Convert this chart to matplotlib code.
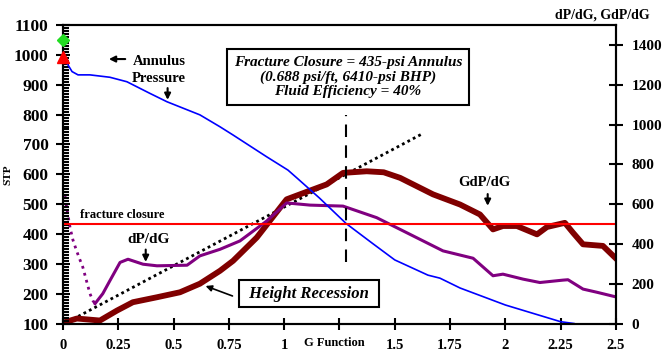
import numpy as np
import matplotlib
matplotlib.use("Agg")
import matplotlib.pyplot as plt
from matplotlib.ticker import MultipleLocator, FixedLocator

plt.rcParams['font.family'] = ['Liberation Serif', 'DejaVu Serif']
plt.rcParams['font.weight'] = 'bold'

# ── data ──
# annulus pressure (STP, left axis)
g_stp = [0.0, 0.009, 0.023, 0.041, 0.068, 0.122, 0.212, 0.289, 0.393, 0.470, 0.619,
         0.710, 0.77, 0.92, 1.017, 1.06, 1.16, 1.28, 1.40, 1.50, 1.65, 1.704, 1.795,
         2.0, 2.25, 2.31]
stp = [1000, 983, 966, 944, 933, 933, 925, 910, 871, 843, 799,
       759, 731, 659, 614, 586, 520, 435, 368, 313, 262, 252, 219,
       162, 106, 100]

# dP/dG (right axis)
g_dp_early = [0.009, 0.020, 0.032, 0.045, 0.060, 0.075, 0.090, 0.105, 0.122, 0.135, 0.145]
dp_early = [640, 560, 482, 420, 370, 325, 282, 220, 150, 115, 100]
g_dp = [0.145, 0.18, 0.212, 0.258, 0.294, 0.362, 0.425, 0.561, 0.619, 0.710, 0.800,
        0.921, 1.011, 1.117, 1.266, 1.418, 1.569, 1.718, 1.854, 1.944, 1.989, 2.080,
        2.156, 2.260, 2.283, 2.351, 2.414, 2.495]
dp = [100, 150, 215, 307, 323, 298, 290, 293, 340, 373, 415,
      515, 606, 595, 590, 532, 448, 365, 328, 240, 248, 223,
      206, 218, 220, 173, 157, 135]

# G*dP/dG (right axis)
g_gdp = [0.009, 0.063, 0.167, 0.244, 0.316, 0.425, 0.529, 0.619, 0.710, 0.769, 0.876,
         1.011, 1.071, 1.192, 1.266, 1.373, 1.45, 1.524, 1.673, 1.795, 1.885, 1.944,
         1.989, 2.052, 2.143, 2.188, 2.269, 2.306, 2.351, 2.441, 2.495]
gdp = [7, 25, 15, 65, 107, 132, 157, 200, 265, 315, 432,
       624, 649, 699, 757, 765, 760, 732, 649, 598, 548, 473,
       490, 490, 448, 485, 506, 456, 398, 390, 332]

# tangent line through the origin
g_tan = [0.02, 1.627]
tan = [7, 955]

closure_stp = 435
closure_g = 1.28
x_ticks = [0, 0.25, 0.5, 0.75, 1, 1.25, 1.5, 1.75, 2, 2.25, 2.5]
x_labels = ['0', '0.25', '0.5', '0.75', '1', '', '1.5', '1.75', '2', '2.25', '2.5']

fig = plt.figure(figsize=(6.65, 3.55), dpi=100)
ax = fig.add_axes([0.0947, 0.0887, 0.8316, 0.8408])
ax2 = ax.twinx()
ax.set_zorder(ax2.get_zorder() + 1)
ax.patch.set_visible(False)

# right axis curves
ax2.plot(g_tan, tan, color='black', lw=2, ls=(0, (1, 1.2)))
ax2.plot(g_gdp, gdp, color='#800000', lw=4.2, solid_joinstyle='round')
ax2.plot(g_dp_early, dp_early, color='#800080', lw=2, ls=(0, (1, 1.6)))
ax2.plot(g_dp, dp, color='#800080', lw=2.2)
ax2.set_ylim(0, 1500)
ax2.set_yticks(range(0, 1401, 200))

# left axis curves
ax.plot(g_stp, stp, color='#0000ff', lw=1.2)
ax.axhline(closure_stp, color='#ff0000', lw=1.5)
ax.plot([closure_g, closure_g], [306, 798], color='black', lw=1.5, ls=(0, (6, 4)))
ax.plot([0], [1050], marker='D', ms=6.5, color='#22dd22', clip_on=False, zorder=5)
ax.plot([0], [993], marker='^', ms=8.5, color='#ff0000', clip_on=False, zorder=5)

ax.set_xlim(0, 2.5)
ax.set_ylim(100, 1100)
ax.xaxis.set_major_locator(FixedLocator(x_ticks))
ax.set_xticklabels(x_labels)
ax.yaxis.set_major_locator(MultipleLocator(100))
ax.yaxis.set_minor_locator(MultipleLocator(10))

for a in (ax, ax2):
    for s in a.spines.values():
        s.set_linewidth(1.5)

ax.tick_params(axis='x', direction='inout', length=9, width=1.5, pad=7, labelsize=10.5)
ax.tick_params(axis='y', which='major', direction='inout', length=10, width=1.5, pad=5.5, labelsize=12.5)
ax.tick_params(axis='y', which='minor', direction='in', length=4, width=1.5)
ax2.tick_params(axis='y', direction='inout', length=10, width=1.5, pad=6, labelsize=11)
for lab in ax.get_xticklabels() + ax.get_yticklabels() + ax2.get_yticklabels():
    lab.set_fontweight('bold')

ax.set_ylabel('STP', fontsize=8, fontweight='bold', labelpad=1)
fig.text(0.905, 0.958, 'dP/dG, GdP/dG', fontsize=10, fontweight='bold', ha='center', va='center')
ax.text(1.225, 36, 'G Function', fontsize=9, fontweight='bold', ha='center', va='center',
        clip_on=False)

# annotations
ax.text(1.288, 926, 'Fracture Closure = 435-psi Annulus\n(0.688 psi/ft, 6410-psi BHP)\n'
        'Fluid Efficiency = 40%', fontsize=11, fontweight='bold', style='italic',
        ha='center', va='center', linespacing=1.12,
        bbox=dict(boxstyle='square,pad=0.45', fc='white', ec='black', lw=1.5))
ax.text(1.112, 200, ' Height Recession ', fontsize=12, fontweight='bold', style='italic',
        ha='center', va='center',
        bbox=dict(boxstyle='square,pad=0.35', fc='white', ec='black', lw=1.5))
ax.annotate('', xy=(0.633, 229), xytext=(0.778, 189),
            arrowprops=dict(arrowstyle='-|>', color='black', lw=1.2, mutation_scale=9))

ax.text(0.434, 950, 'Annulus\nPressure', fontsize=10.5, fontweight='bold',
        ha='center', va='center', linespacing=1.45)
ax.annotate('', xy=(0.195, 986), xytext=(0.294, 986),
            arrowprops=dict(arrowstyle='-|>', color='black', lw=1.5, mutation_scale=9))
ax.annotate('', xy=(0.473, 840), xytext=(0.473, 898),
            arrowprops=dict(arrowstyle='-|>', color='black', lw=1.5, mutation_scale=9))

ax.text(0.269, 463, 'fracture closure', fontsize=9, fontweight='bold', ha='center', va='center')

ax.text(0.387, 382, 'dP/dG', fontsize=11, fontweight='bold', ha='center', va='center')
ax.annotate('', xy=(0.374, 297), xytext=(0.374, 357),
            arrowprops=dict(arrowstyle='-|>', color='black', lw=1.5, mutation_scale=9))

ax.text(1.906, 572, 'GdP/dG', fontsize=10.5, fontweight='bold', ha='center', va='center')
ax.annotate('', xy=(1.92, 485), xytext=(1.92, 543),
            arrowprops=dict(arrowstyle='-|>', color='black', lw=1.5, mutation_scale=9))

fig.savefig('out.png', dpi=100)
